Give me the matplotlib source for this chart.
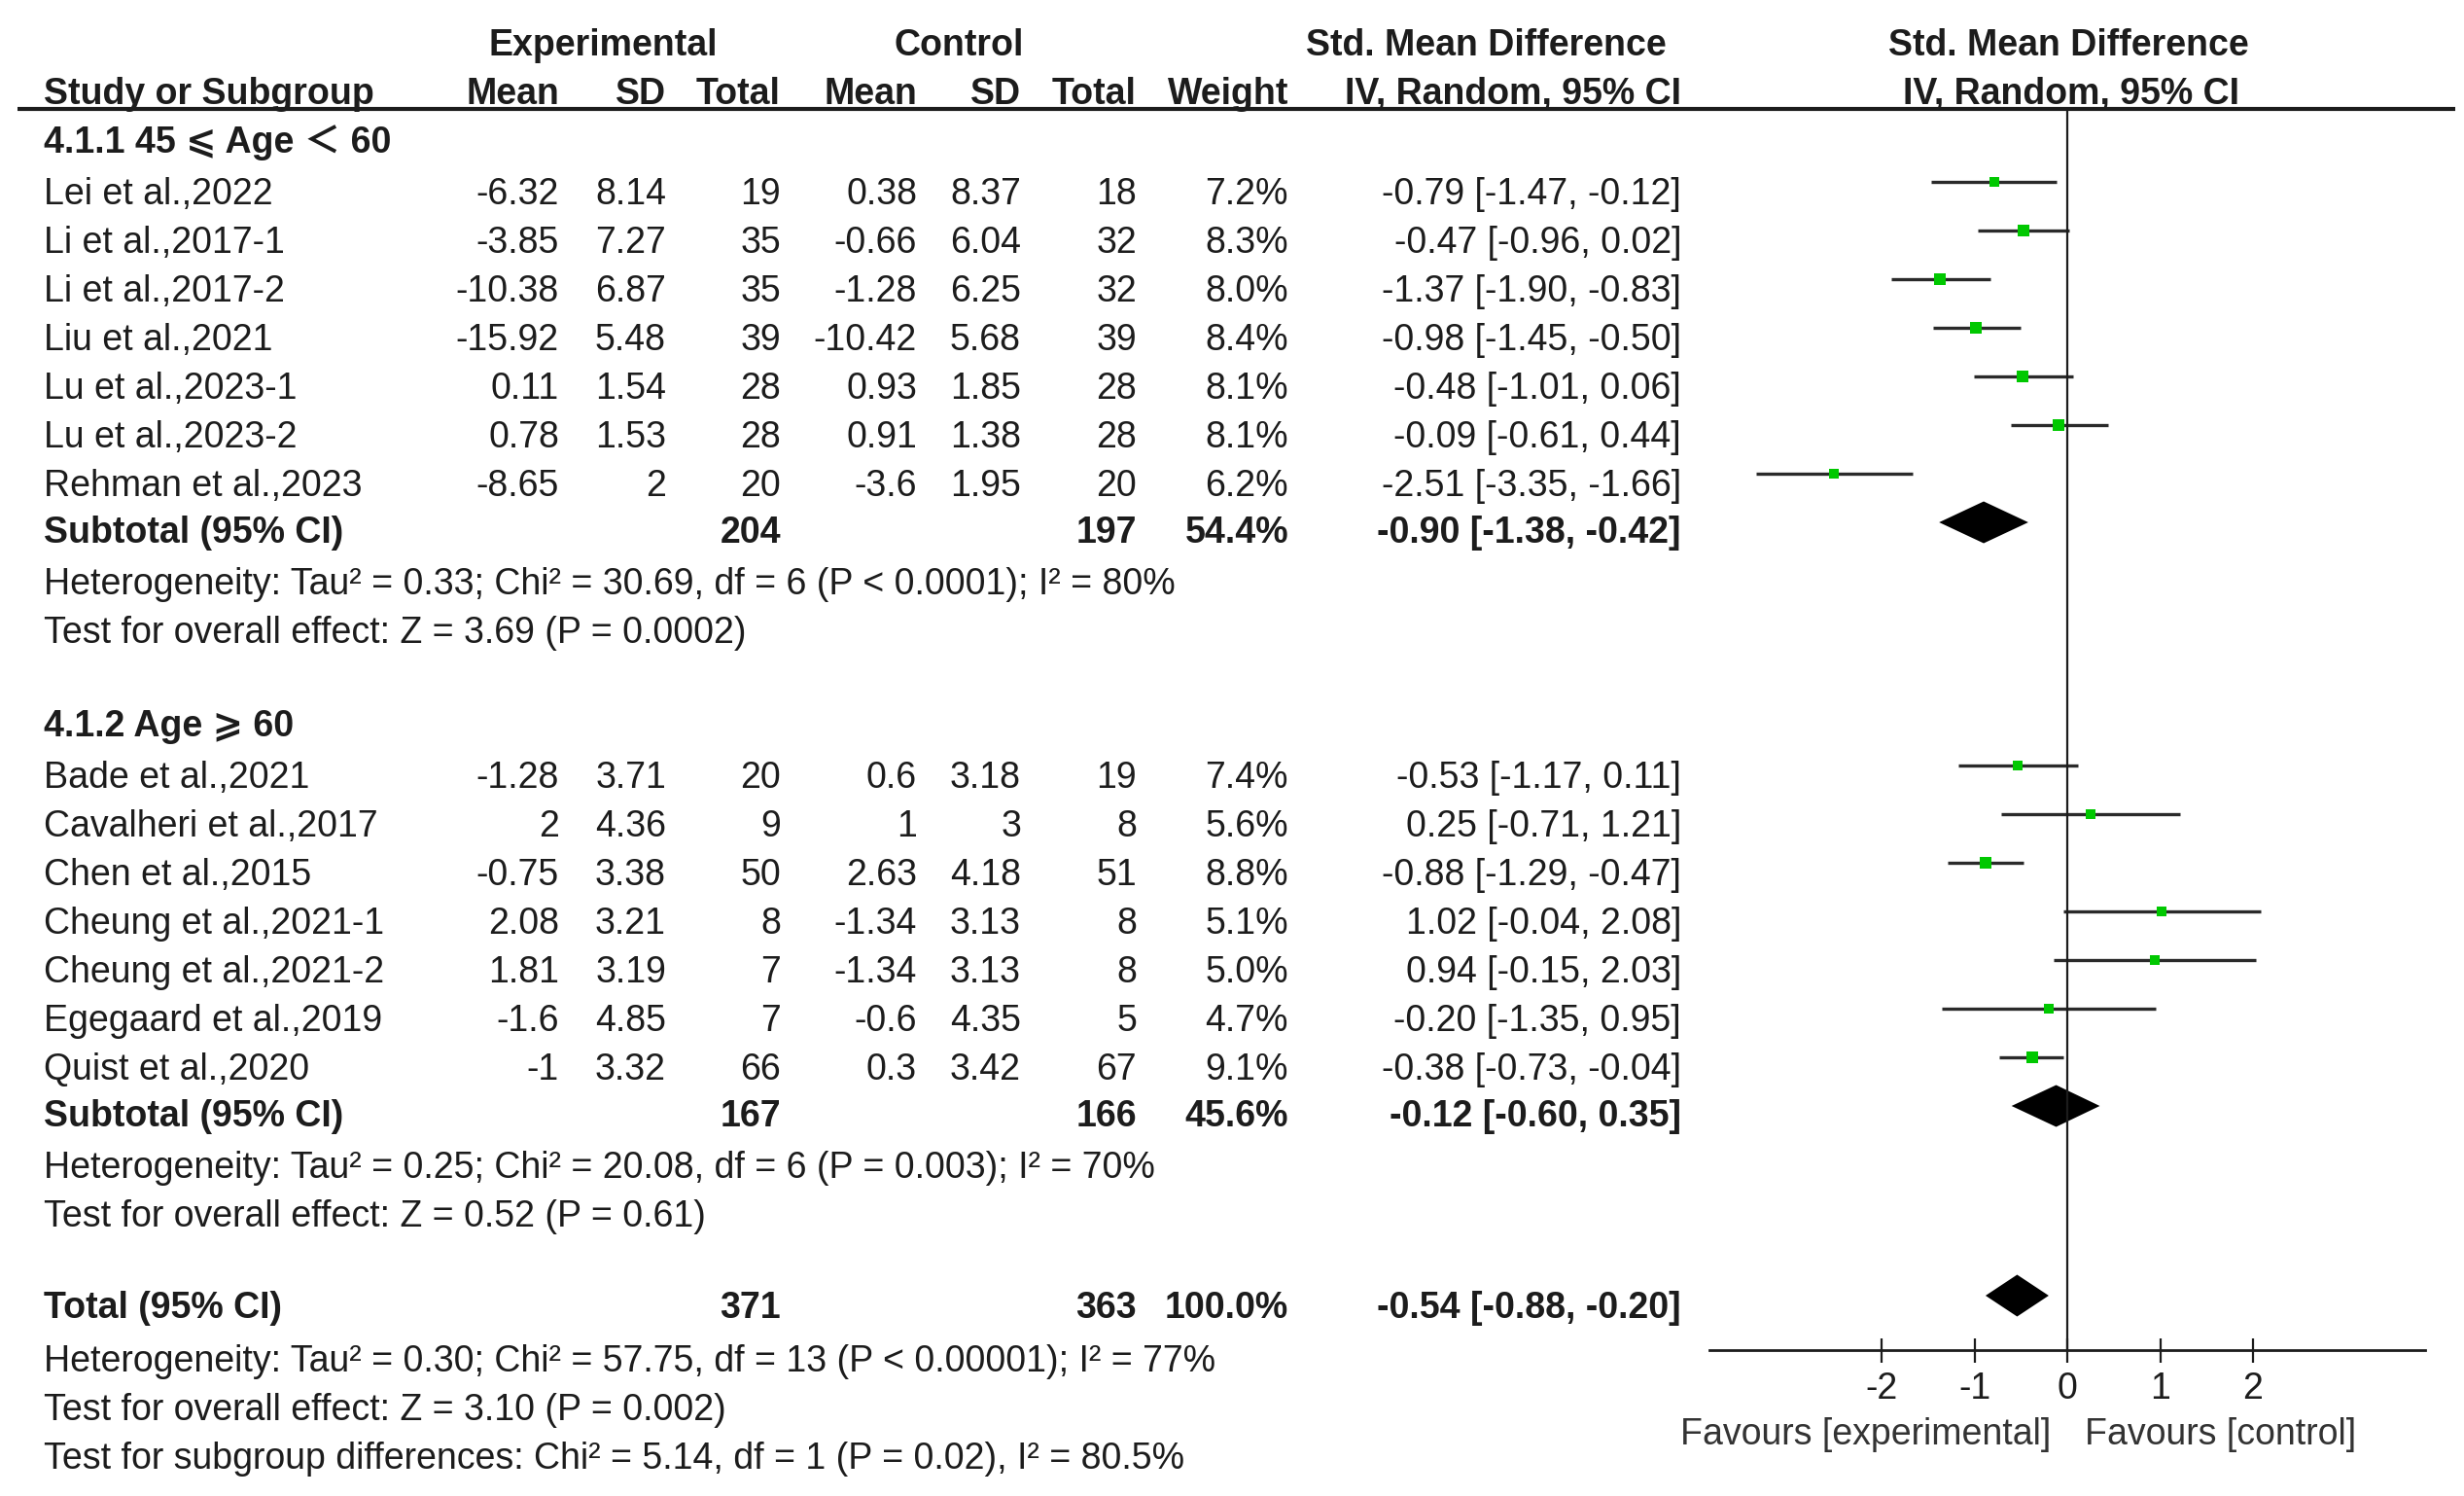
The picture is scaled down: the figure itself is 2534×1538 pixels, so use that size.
import numpy as np
import matplotlib.pyplot as plt

plt.rcParams['font.family'] = ['Liberation Sans', 'Noto Sans CJK SC', 'DejaVu Sans']

# ---- data -------------------------------------------------------------
group_titles = ['4.1.1 45 \u2a7d Age \uff1c 60', '4.1.2 Age \u2a7e 60']

studies_1 = ['Lei et al.,2022', 'Li et al.,2017-1', 'Li et al.,2017-2', 'Liu et al.,2021',
             'Lu et al.,2023-1', 'Lu et al.,2023-2', 'Rehman et al.,2023']
exp_mean_1 = [-6.32, -3.85, -10.38, -15.92, 0.11, 0.78, -8.65]
exp_sd_1 = [8.14, 7.27, 6.87, 5.48, 1.54, 1.53, 2]
exp_n_1 = [19, 35, 35, 39, 28, 28, 20]
ctl_mean_1 = [0.38, -0.66, -1.28, -10.42, 0.93, 0.91, -3.6]
ctl_sd_1 = [8.37, 6.04, 6.25, 5.68, 1.85, 1.38, 1.95]
ctl_n_1 = [18, 32, 32, 39, 28, 28, 20]
weight_1 = [7.2, 8.3, 8.0, 8.4, 8.1, 8.1, 6.2]
smd_1 = [-0.79, -0.47, -1.37, -0.98, -0.48, -0.09, -2.51]
lo_1 = [-1.47, -0.96, -1.90, -1.45, -1.01, -0.61, -3.35]
hi_1 = [-0.12, 0.02, -0.83, -0.50, 0.06, 0.44, -1.66]

studies_2 = ['Bade et al.,2021', 'Cavalheri et al.,2017', 'Chen et al.,2015', 'Cheung et al.,2021-1',
             'Cheung et al.,2021-2', 'Egegaard et al.,2019', 'Quist et al.,2020']
exp_mean_2 = [-1.28, 2, -0.75, 2.08, 1.81, -1.6, -1]
exp_sd_2 = [3.71, 4.36, 3.38, 3.21, 3.19, 4.85, 3.32]
exp_n_2 = [20, 9, 50, 8, 7, 7, 66]
ctl_mean_2 = [0.6, 1, 2.63, -1.34, -1.34, -0.6, 0.3]
ctl_sd_2 = [3.18, 3, 4.18, 3.13, 3.13, 4.35, 3.42]
ctl_n_2 = [19, 8, 51, 8, 8, 5, 67]
weight_2 = [7.4, 5.6, 8.8, 5.1, 5.0, 4.7, 9.1]
smd_2 = [-0.53, 0.25, -0.88, 1.02, 0.94, -0.20, -0.38]
lo_2 = [-1.17, -0.71, -1.29, -0.04, -0.15, -1.35, -0.73]
hi_2 = [0.11, 1.21, -0.47, 2.08, 2.03, 0.95, -0.04]

sub_exp_n = [204, 167]
sub_ctl_n = [197, 166]
sub_weight = [54.4, 45.6]
sub_smd = [-0.90, -0.12]
sub_lo = [-1.38, -0.60]
sub_hi = [-0.42, 0.35]
sub_het = ['Heterogeneity: Tau\u00b2 = 0.33; Chi\u00b2 = 30.69, df = 6 (P < 0.0001); I\u00b2 = 80%',
           'Heterogeneity: Tau\u00b2 = 0.25; Chi\u00b2 = 20.08, df = 6 (P = 0.003); I\u00b2 = 70%']
sub_test = ['Test for overall effect: Z = 3.69 (P = 0.0002)',
            'Test for overall effect: Z = 0.52 (P = 0.61)']

tot_exp_n, tot_ctl_n, tot_weight = 371, 363, 100.0
tot_smd, tot_lo, tot_hi = -0.54, -0.88, -0.20
tot_lines = ['Heterogeneity: Tau\u00b2 = 0.30; Chi\u00b2 = 57.75, df = 13 (P < 0.00001); I\u00b2 = 77%',
             'Test for overall effect: Z = 3.10 (P = 0.002)',
             'Test for subgroup differences: Chi\u00b2 = 5.14, df = 1 (P = 0.02), I\u00b2 = 80.5%']

xticks = [-2, -1, 0, 1, 2]

# ---- layout (pixels / row units) ----------------------------------------
W, H = 2534, 1538
ROW0, ROWH = 197, 50.0          # pixel y of first study row, row height
FS = 27
INK = '#1c1c1c'
GREEN = '#00c800'
X_NAME, X_EM, X_ESD, X_EN = 45, 575, 685, 803
X_CM, X_CSD, X_CN, X_W, X_CI = 943, 1050, 1169, 1325, 1729
ZERO_PX, UNIT_PX, HALF = 2126, 95.5, 3.85
MARK_OFF = -0.2                 # marks sit a little above the text line
TXT_OFF = 0.06                  # nudge text down to match the reference baseline
HEADER_R = (112 - ROW0) / ROWH
AXIS_R = (1388 - ROW0) / ROWH

fig = plt.figure(figsize=(W / 100, H / 100), dpi=100)
ax = fig.add_axes([0, 0, 1, 1])
ax.set_xlim(0, W)
ax.set_ylim((H - ROW0) / ROWH, -ROW0 / ROWH)
ax.axis('off')

left_px = ZERO_PX - HALF * UNIT_PX
fx = fig.add_axes([left_px / W, 0, 2 * HALF * UNIT_PX / W, 1])
fx.set_xlim(-HALF, HALF)
fx.set_ylim(ax.get_ylim())
fx.patch.set_alpha(0)
for s in ['left', 'right', 'top']:
    fx.spines[s].set_visible(False)
fx.spines['bottom'].set_position(('data', AXIS_R))
fx.spines['bottom'].set_linewidth(2.0)
fx.spines['bottom'].set_color(INK)
fx.set_yticks([])
fx.set_xticks(xticks)
fx.set_xticklabels([str(t) for t in xticks])
fx.tick_params(axis='x', direction='inout', length=18, width=1.6, color=INK,
               labelsize=FS, labelcolor=INK, pad=7)


def txt(x, r, s, ha='right', bold=False):
    ax.text(x, r + TXT_OFF, s, ha=ha, va='center', fontsize=FS, color=INK,
            fontweight='bold' if bold else 'normal')


# headers
txt(620, -3.06, 'Experimental', ha='center', bold=True)
txt(986, -3.06, 'Control', ha='center', bold=True)
txt(1528, -3.06, 'Std. Mean Difference', ha='center', bold=True)
txt(2127, -3.06, 'Std. Mean Difference', ha='center', bold=True)
txt(X_NAME, -2.06, 'Study or Subgroup', ha='left', bold=True)
for x, s in [(X_EM, 'Mean'), (X_ESD, 'SD'), (X_EN, 'Total'), (X_CM, 'Mean'),
             (X_CSD, 'SD'), (X_CN, 'Total'), (X_W, 'Weight'), (X_CI, 'IV, Random, 95% CI')]:
    txt(x, -2.06, s, bold=True)
txt(2130, -2.06, 'IV, Random, 95% CI', ha='center', bold=True)
ax.hlines(HEADER_R, 18, 2525, color=INK, lw=3)

groups = [
    (studies_1, exp_mean_1, exp_sd_1, exp_n_1, ctl_mean_1, ctl_sd_1, ctl_n_1, weight_1, smd_1, lo_1, hi_1),
    (studies_2, exp_mean_2, exp_sd_2, exp_n_2, ctl_mean_2, ctl_sd_2, ctl_n_2, weight_2, smd_2, lo_2, hi_2),
]


def diamond(r, est, lo, hi):
    yy = r + MARK_OFF
    fx.fill([lo, est, hi, est], [yy, yy - 0.43, yy, yy + 0.43], color='black', lw=0)


start = 0
for g, (names, em, esd, en, cm, csd, cn, w, smd, lo, hi) in enumerate(groups):
    txt(X_NAME, start - 1.06, group_titles[g], ha='left', bold=True)
    for i in range(len(names)):
        r = start + i
        txt(X_NAME, r, names[i], ha='left')
        txt(X_EM, r, '%g' % em[i])
        txt(X_ESD, r, '%g' % esd[i])
        txt(X_EN, r, '%d' % en[i])
        txt(X_CM, r, '%g' % cm[i])
        txt(X_CSD, r, '%g' % csd[i])
        txt(X_CN, r, '%d' % cn[i])
        txt(X_W, r, '%.1f%%' % w[i])
        txt(X_CI, r, '%.2f [%.2f, %.2f]' % (smd[i], lo[i], hi[i]))
        fx.hlines(r + MARK_OFF, lo[i], hi[i], color='#2a2a2a', lw=2.4)
        fx.plot(smd[i], r + MARK_OFF, 's', color=GREEN, ms=6.0 + 0.25 * w[i], mew=0)
    rs = start + len(names) - 0.05
    txt(X_NAME, rs, 'Subtotal (95% CI)', ha='left', bold=True)
    txt(X_EN, rs, '%d' % sub_exp_n[g], bold=True)
    txt(X_CN, rs, '%d' % sub_ctl_n[g], bold=True)
    txt(X_W, rs, '%.1f%%' % sub_weight[g], bold=True)
    txt(X_CI, rs, '%.2f [%.2f, %.2f]' % (sub_smd[g], sub_lo[g], sub_hi[g]), bold=True)
    diamond(rs + 0.05, sub_smd[g], sub_lo[g], sub_hi[g])
    txt(X_NAME, start + len(names) + 1.02, sub_het[g], ha='left')
    txt(X_NAME, start + len(names) + 2.02, sub_test[g], ha='left')
    start += len(names) + 5

rt = 22.9
txt(X_NAME, rt, 'Total (95% CI)', ha='left', bold=True)
txt(X_EN, rt, '%d' % tot_exp_n, bold=True)
txt(X_CN, rt, '%d' % tot_ctl_n, bold=True)
txt(X_W, rt, '%.1f%%' % tot_weight, bold=True)
txt(X_CI, rt, '%.2f [%.2f, %.2f]' % (tot_smd, tot_lo, tot_hi), bold=True)
diamond(rt, tot_smd, tot_lo, tot_hi)
for k, s in enumerate(tot_lines):
    txt(X_NAME, 24.0 + k, s, ha='left')

# null line
fx.vlines(0, HEADER_R, AXIS_R, color=INK, lw=1.6)

# favours labels
fx.text(-0.18, 25.56, 'Favours [experimental]', ha='right', va='center', fontsize=FS, color='#333333')
fx.text(0.19, 25.56, 'Favours [control]', ha='left', va='center', fontsize=FS, color='#333333')

fig.savefig('out.png', dpi=100)
